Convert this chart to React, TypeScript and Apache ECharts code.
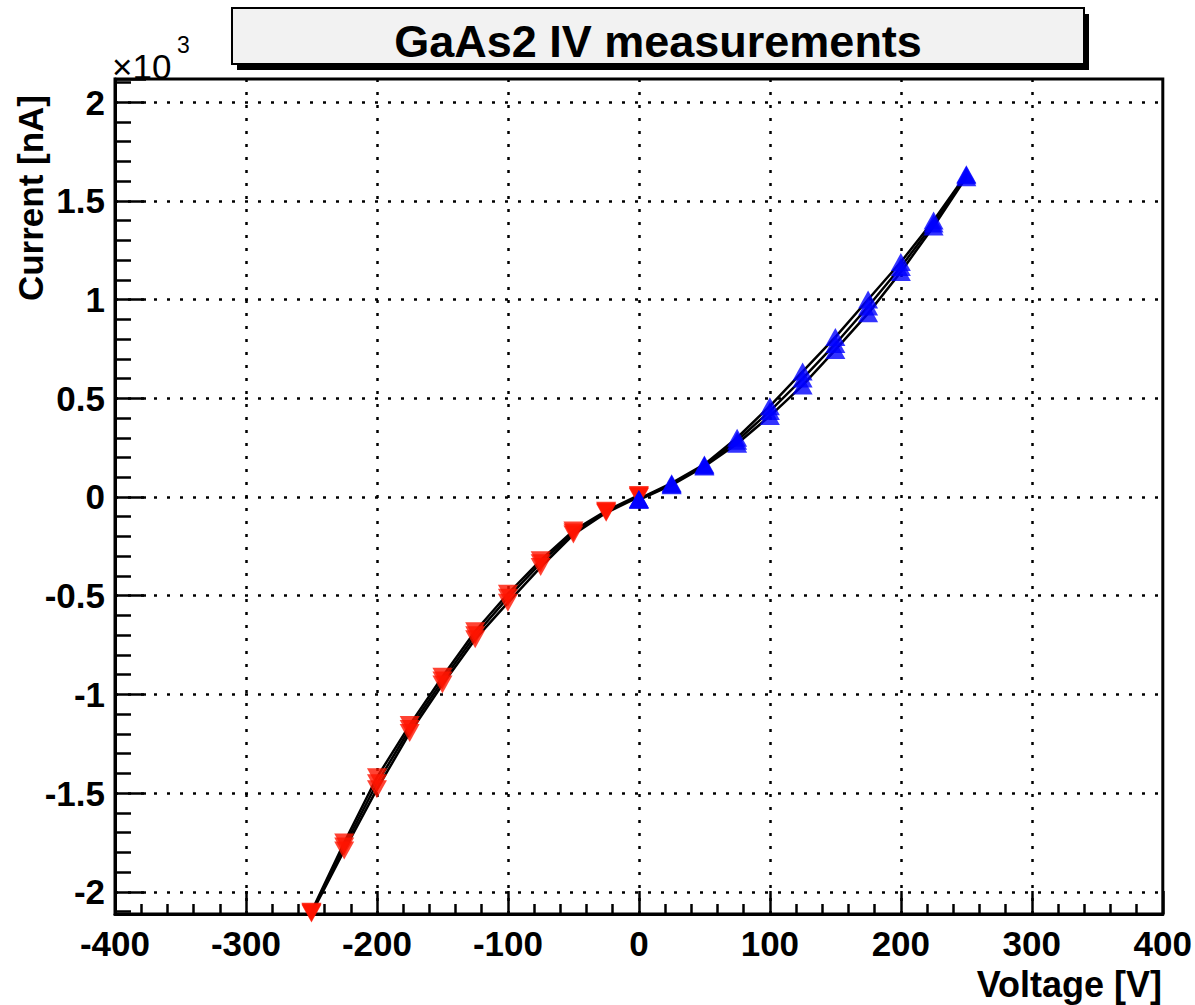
import React, { useEffect, useRef } from "react";
import * as echarts from "echarts";

// Voltages [V]
const negVoltages = [-250, -225, -200, -175, -150, -125, -100, -75, -50, -25, 0];
const posVoltages = [0, 25, 50, 75, 100, 125, 150, 175, 200, 225, 250];

// Currents [nA], three measurement runs
const negRun1 = [-2100, -1750, -1420, -1155, -910, -680, -490, -320, -170, -70, 10];
const negRun2 = [-2110, -1790, -1480, -1195, -950, -720, -535, -355, -190, -80, 0];
const negRun3 = [-2105, -1770, -1450, -1175, -930, -700, -510, -335, -180, -75, 5];
const posRun1 = [-10, 70, 165, 300, 460, 635, 810, 1000, 1190, 1400, 1635];
const posRun2 = [-15, 60, 155, 270, 410, 565, 745, 930, 1140, 1370, 1620];
const posRun3 = [-12, 65, 160, 285, 435, 600, 775, 965, 1165, 1385, 1630];

const titleText = "GaAs2 IV measurements";
const xTitle = "Voltage [V]";
const yTitle = "Current [nA]";

const FONT = "'Liberation Sans', Arial, Helvetica, sans-serif";

export default function App() {
  const ref = useRef<HTMLDivElement>(null);

  useEffect(() => {
    if (!ref.current) return;
    const chart = echarts.init(ref.current, undefined, { renderer: "svg" });

    const pairs = (xs: number[], ys: number[]) => xs.map((x, i) => [x, ys[i]]);
    const negRuns = [negRun1, negRun2, negRun3];
    const posRuns = [posRun1, posRun2, posRun3];

    const lineSeries = negRuns.map((nr, k) => ({
      type: "line",
      data: [...pairs(negVoltages, nr), ...pairs(posVoltages, posRuns[k])],
      symbol: "none",
      lineStyle: { color: "#000", width: 2.5 },
      z: 2,
      silent: true,
    }));

    const negScatter = negRuns.map((nr) => ({
      type: "scatter",
      data: pairs(negVoltages, nr),
      symbol: "triangle",
      symbolRotate: 180,
      symbolSize: [20, 18],
      itemStyle: { color: "#ff1400" },
      z: 3,
    }));
    const posScatter = posRuns.map((pr) => ({
      type: "scatter",
      data: pairs(posVoltages, pr),
      symbol: "triangle",
      symbolSize: [20, 18],
      itemStyle: { color: "#0000ff" },
      z: 3,
    }));

    const gridDots = { color: "#000", width: 2.5, type: [3, 10] as any };

    chart.setOption({
      animation: false,
      backgroundColor: "#fff",
      grid: {
        left: 115,
        right: 32,
        top: 79,
        bottom: 91,
        show: true,
        borderColor: "#000",
        borderWidth: 3,
        backgroundColor: "transparent",
      },
      xAxis: {
        type: "value",
        min: -400,
        max: 400,
        interval: 100,
        axisLine: { show: true, onZero: false, lineStyle: { color: "#000", width: 3 } },
        axisTick: { show: true, inside: true, length: 23, lineStyle: { color: "#000", width: 2.5 } },
        minorTick: { show: true, splitNumber: 5, length: 10, lineStyle: { color: "#000", width: 2.5 } },
        splitLine: { show: true, showMinLine: false, showMaxLine: false, lineStyle: gridDots },
        axisLabel: {
          color: "#000",
          fontFamily: FONT,
          fontWeight: "bold",
          fontSize: 35,
          margin: 12,
          showMinLabel: true,
          showMaxLabel: true,
        },
      },
      yAxis: {
        type: "value",
        min: -2112,
        max: 2117,
        splitNumber: 8,
        axisLine: { show: true, onZero: false, lineStyle: { color: "#000", width: 3 } },
        axisTick: { show: true, inside: true, length: 31, lineStyle: { color: "#000", width: 2.5 } },
        minorTick: { show: true, splitNumber: 5, length: 16, lineStyle: { color: "#000", width: 2.5 } },
        splitLine: { show: true, showMinLine: false, showMaxLine: false, lineStyle: gridDots },
        axisLabel: {
          color: "#000",
          fontFamily: FONT,
          fontWeight: "bold",
          fontSize: 35,
          margin: 10,
          formatter: (v: number) => (Math.abs(v % 500) < 1e-6 ? String(v / 1000) : ""),
        },
      },
      graphic: [
        {
          type: "rect",
          shape: { x: 237, y: 14, width: 852, height: 56 },
          style: { fill: "#000" },
          z: 10,
        },
        {
          type: "rect",
          shape: { x: 232, y: 8, width: 852, height: 56 },
          style: { fill: "#f2f2f2", stroke: "#000", lineWidth: 2 },
          z: 11,
        },
        {
          type: "text",
          x: 658,
          y: 41,
          style: {
            text: titleText,
            fontFamily: FONT,
            fontWeight: "bold",
            fontSize: 45,
            fill: "#000",
            align: "center",
            verticalAlign: "middle",
          },
          z: 12,
        },
        {
          type: "text",
          x: 30,
          y: 95,
          rotation: Math.PI / 2,
          style: {
            text: yTitle,
            fontFamily: FONT,
            fontWeight: "bold",
            fontSize: 35,
            fill: "#000",
            align: "right",
            verticalAlign: "middle",
          },
          z: 12,
        },
        {
          type: "text",
          x: 1162,
          y: 984,
          style: {
            text: xTitle,
            fontFamily: FONT,
            fontWeight: "bold",
            fontSize: 36,
            fill: "#000",
            align: "right",
            verticalAlign: "middle",
          },
          z: 12,
        },
        {
          type: "text",
          x: 112,
          y: 66,
          style: {
            text: "×10",
            fontFamily: FONT,
            fontSize: 35,
            fill: "#000",
            align: "left",
            verticalAlign: "middle",
          },
          z: 12,
        },
        {
          type: "text",
          x: 177,
          y: 45,
          style: {
            text: "3",
            fontFamily: FONT,
            fontSize: 23,
            fill: "#000",
            align: "left",
            verticalAlign: "middle",
          },
          z: 12,
        },
      ],
      series: [...lineSeries, ...negScatter, ...posScatter],
    });

    return () => chart.dispose();
  }, []);

  return (
    <div
      ref={ref}
      style={{ position: "absolute", left: 0, top: 0, width: 1195, height: 1005, background: "#fff" }}
    />
  );
}
